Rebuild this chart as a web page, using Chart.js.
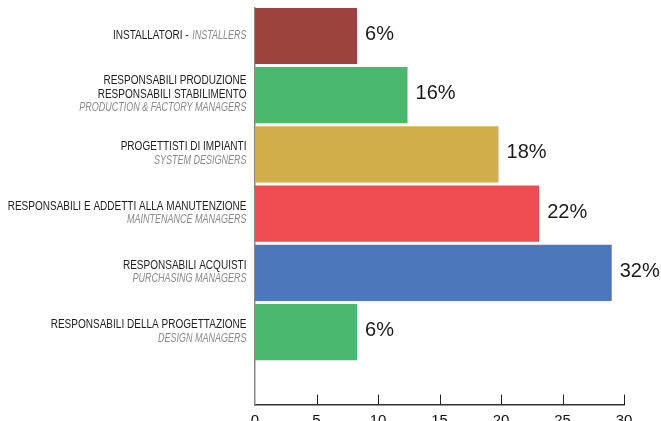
<!DOCTYPE html>
<html>
<head>
<meta charset="utf-8">
<script src="https://cdn.jsdelivr.net/npm/chart.js@4"></script>
<style>
html, body { margin: 0; padding: 0; background: #fff; overflow: hidden; }
#wrap { position: relative; width: 661px; height: 437px; }
</style>
</head>
<body>
<div id="wrap"><canvas id="chart"></canvas></div>
<script>
// --- Data ---
const roleIt = [
    ["INSTALLATORI -"],
    ["RESPONSABILI PRODUZIONE", "RESPONSABILI STABILIMENTO"],
    ["PROGETTISTI DI IMPIANTI"],
    ["RESPONSABILI E ADDETTI ALLA MANUTENZIONE"],
    ["RESPONSABILI ACQUISTI"],
    ["RESPONSABILI DELLA PROGETTAZIONE"]
];
const roleEn = [
    "INSTALLERS",
    "PRODUCTION & FACTORY MANAGERS",
    "SYSTEM DESIGNERS",
    "MAINTENANCE MANAGERS",
    "PURCHASING MANAGERS",
    "DESIGN MANAGERS"
];
const sameLine = [true, false, false, false, false, false];
const barLength = [8.3, 12.4, 19.8, 23.1, 29.0, 8.3];
const pctLabel = [6, 16, 18, 22, 32, 6];
const barColors = ["#9D423C", "#48B96E", "#D2AE4B", "#EE4C51", "#4C77BB", "#48B96E"];
const xTicks = [0, 5, 10, 15, 20, 25, 30];

// condensed look for the category labels
const SX_IT = 0.835;
const SX_EN = 0.75;

function drawText(ctx, text, x, y, font, color, sx) {
    ctx.save();
    ctx.font = font;
    ctx.fillStyle = color;
    ctx.textAlign = "right";
    ctx.textBaseline = "middle";
    ctx.translate(x, y);
    ctx.scale(sx, 1);
    ctx.fillText(text, 0, 0);
    const w = ctx.measureText(text).width * sx;
    ctx.restore();
    return w;
}

const labelsPlugin = {
    id: "roleLabels",
    afterDraw(chart) {
        const ctx = chart.ctx;
        const yScale = chart.scales.y;
        const xScale = chart.scales.x;
        const area = chart.chartArea;
        const itFont = "12px 'Liberation Sans', Arial, sans-serif";
        const enFont = "italic 12px 'Liberation Sans', Arial, sans-serif";
        const xRight = area.left - 8.5;

        // category labels
        roleIt.forEach((lines, i) => {
            const yc = yScale.getPixelForValue(i) - 0.5;
            if (sameLine[i]) {
                const w = drawText(ctx, roleEn[i], xRight, yc, enFont, "#8a8a8a", SX_EN);
                drawText(ctx, lines[0], xRight - w - 3.5, yc, itFont, "#1e1e1e", SX_IT);
                return;
            }
            const n = lines.length + 1;
            const step = 13.5;
            let y = yc - (n - 1) * step / 2;
            for (const l of lines) {
                drawText(ctx, l, xRight, y, itFont, "#1e1e1e", SX_IT);
                y += step;
            }
            drawText(ctx, roleEn[i], xRight, y, enFont, "#8a8a8a", SX_EN);
        });

        // value labels
        const meta = chart.getDatasetMeta(0);
        ctx.save();
        ctx.font = "20px 'Liberation Sans', Arial, sans-serif";
        ctx.fillStyle = "#1a1a1a";
        ctx.textAlign = "left";
        ctx.textBaseline = "middle";
        meta.data.forEach((bar, i) => {
            ctx.fillText(`${pctLabel[i]}%`, bar.x + 8, bar.y - 1.5);
        });
        ctx.restore();

        // tick marks pointing up into the plot
        ctx.save();
        ctx.strokeStyle = "#222";
        ctx.lineWidth = 1;
        xTicks.forEach(v => {
            if (v === 0) return;
            const px = Math.round(xScale.getPixelForValue(v)) + 0.5;
            ctx.beginPath();
            ctx.moveTo(px, area.bottom);
            ctx.lineTo(px, area.bottom - 10.5);
            ctx.stroke();
        });
        ctx.restore();
    }
};

window.addEventListener("DOMContentLoaded", () => {
    const ctx = document.getElementById("chart").getContext("2d");
    new Chart(ctx, {
        type: "bar",
        data: {
            datasets: [{
                data: barLength.map((v, i) => ({ x: v, y: i })),
                backgroundColor: barColors,
                borderWidth: 0,
                categoryPercentage: 1.0,
                barPercentage: 0.95
            }]
        },
        options: {
            indexAxis: "y",
            responsive: true,
            maintainAspectRatio: false,
            animation: false,
            layout: { padding: { left: 255, top: 8, right: 37, bottom: 0 } },
            plugins: {
                legend: { display: false },
                tooltip: { enabled: false }
            },
            scales: {
                x: {
                    type: "linear",
                    min: xTicks[0],
                    max: xTicks[xTicks.length - 1],
                    ticks: {
                        stepSize: 5,
                        color: "#111",
                        padding: 7,
                        font: { family: "'Liberation Sans', Arial, sans-serif", size: 15 }
                    },
                    grid: { display: false, drawTicks: false },
                    border: { display: true, color: "#333", width: 1.5 }
                },
                y: {
                    type: "linear",
                    reverse: true,
                    offset: false,
                    min: -0.47,
                    max: 6.23,
                    afterBuildTicks: (scale) => {
                        scale.ticks = roleEn.map((_, i) => ({ value: i }));
                    },
                    ticks: { display: false },
                    grid: { display: false, drawTicks: false },
                    border: { display: true, color: "#888", width: 1.5 }
                }
            }
        },
        plugins: [labelsPlugin]
    });
});
</script>
</body>
</html>
